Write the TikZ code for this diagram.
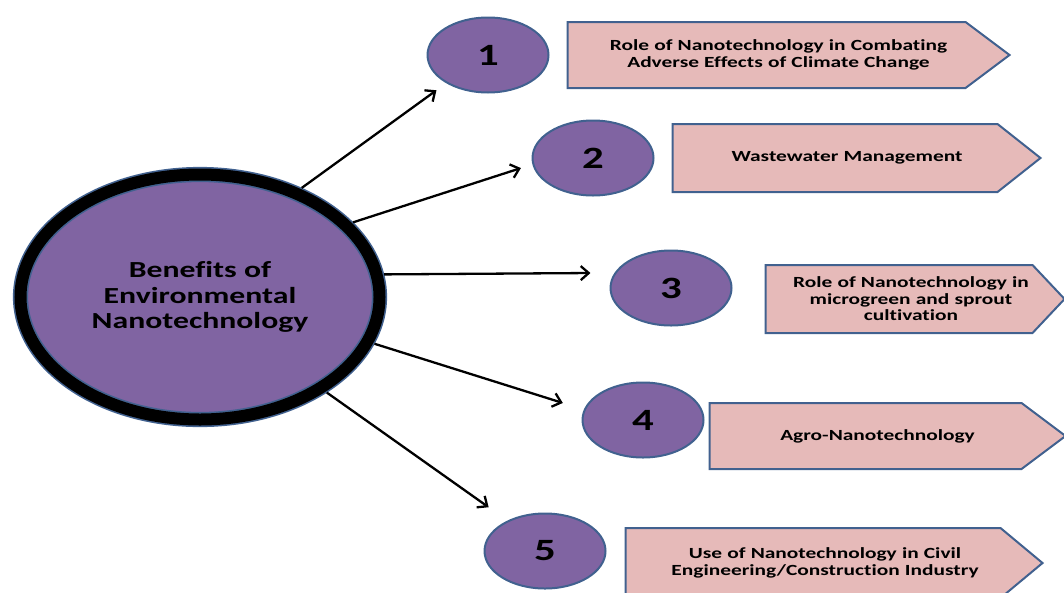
\documentclass[tikz,border=0pt]{standalone}
\usepackage{fontspec}
\setmainfont{Carlito}[FakeStretch=1.38, Ligatures=NoCommon]
\usepackage{tikz}
\usetikzlibrary{arrows.meta, positioning, shapes.geometric, shapes.symbols}

\definecolor{nanopurple}{HTML}{8064A2}
\definecolor{edgeblue}{HTML}{41618F}
\definecolor{topicpink}{HTML}{E6BAB9}

\begin{document}
\begin{tikzpicture}[
    x=1pt, y=-1pt,
    node distance=17pt,
    hub/.style={ellipse, draw=edgeblue, double=black, double distance=12pt, line width=1.6pt, fill=nanopurple, minimum width=359pt, minimum height=245pt, outer sep=7.5pt, align=center, font=\bfseries\fontsize{23}{25.5}\selectfont},
    numnode/.style={ellipse, draw=edgeblue, line width=2pt, fill=nanopurple, minimum width=121pt, minimum height=75pt, font=\bfseries\fontsize{31}{31}\selectfont},
    topic/.style={signal, signal to=east, draw=edgeblue, line width=2pt, fill=topicpink, inner xsep=0pt, align=center, font=\bfseries\fontsize{15.5}{16.5}\selectfont, execute at begin node={\leftskip=24pt plus 1fil\rightskip=0pt plus 1fil\parfillskip=0pt\relax}},
    link/.style={draw, -{Straight Barb[length=8pt, width=14pt]}, line width=2.3pt}
]
    \useasboundingbox (0,0) rectangle (1064,592);

    \node [hub] (hub) at (200,297) {Benefits of\\Environmental\\Nanotechnology};

    \node [numnode] (one) at (488,55) {1};
    \node [numnode] (two) at (593,158) {2};
    \node [numnode] (three) at (671,288) {3};
    \node [numnode] (four) at (643,420) {4};
    \node [numnode] (five) at (545,551) {5};

    \node [topic, right=17pt of one, text width=398pt, minimum height=66pt, signal pointer angle=73.7] (climate) {
        Role of Nanotechnology in Combating\\Adverse Effects of Climate Change
    };

    \node [topic, right=17pt of two, text width=325pt, minimum height=68pt, signal pointer angle=76.7] (water) {
        Wastewater Management
    };

    \node [topic, right=32pt of three, yshift=-11pt, text width=267pt, minimum height=68pt, signal pointer angle=93.4] (sprout) {
        Role of Nanotechnology in\\microgreen and sprout\\cultivation
    };

    \node [topic, right=4pt of four, yshift=-16pt, text width=312pt, minimum height=66pt, signal pointer angle=73.7] (agro) {
        Agro-Nanotechnology
    };

    \node [topic, right=18pt of five, yshift=-12pt, text width=375pt, minimum height=70pt, signal pointer angle=79.6] (civil) {
        Use of Nanotechnology in Civil\\Engineering/Construction Industry
    };

    \draw [link, shorten >=12pt] (hub.47) -- (one.214);
    \draw [link, shorten >=12pt] (hub.26) -- (two.186);
    \draw [link, shorten >=24pt] (hub.7) -- (three.165);
    \draw [link, shorten >=22pt] (hub.-15) -- (four.170);
    \draw [link, shorten >=23pt] (hub.-37.5) -- (five.141);

\end{tikzpicture}
\end{document}
